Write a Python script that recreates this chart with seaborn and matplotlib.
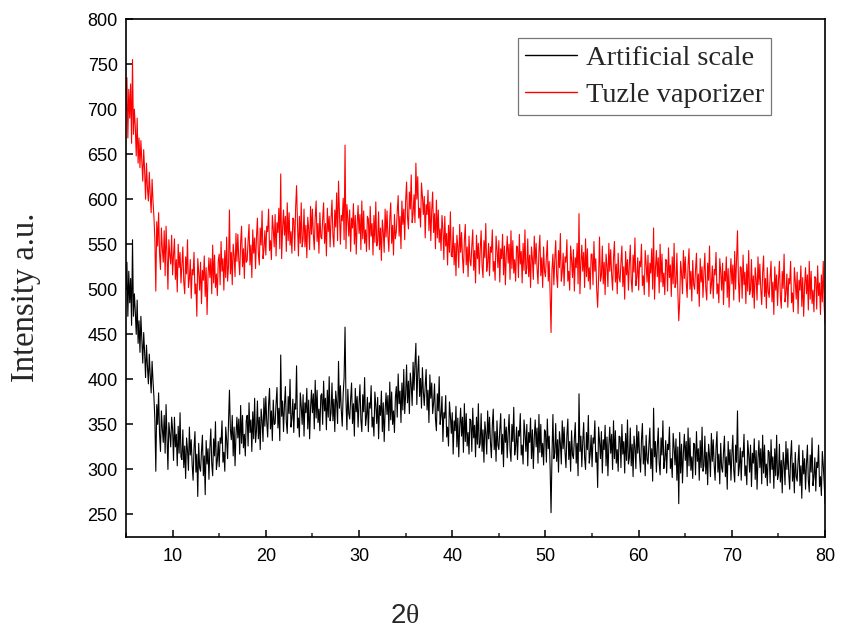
import numpy as np
import pandas as pd
import matplotlib
matplotlib.use("Agg")
import matplotlib.pyplot as plt
import seaborn as sns
from matplotlib.ticker import MultipleLocator

# 2-theta scan grid (degrees)
theta_start, theta_stop, theta_step = 5.0, 80.0, 0.1
two_theta = np.round(np.arange(theta_start, theta_stop + theta_step / 2, theta_step), 2)

artificial_scale = [
    500, 530, 470, 520, 485, 512, 460, 555, 470, 495,   # 5
    475, 450, 488, 440, 465, 430, 470, 445, 418, 452,   # 6
    430, 402, 438, 415, 395, 428, 405, 385, 420, 398,   # 7
    380, 355, 298, 372, 350, 385, 340, 320, 365, 345,   # 8
    330, 360, 318, 372, 338, 300, 352, 340, 325, 358,   # 9
    344, 310, 358, 325, 339, 304, 348, 318, 363, 314,   # 10
    311, 344, 302, 326, 290, 335, 322, 299, 347, 316,   # 11
    333, 305, 288, 324, 342, 297, 317, 270, 329, 302,   # 12
    298, 320, 338, 293, 315, 272, 332, 306, 323, 289,   # 13
    324, 345, 306, 293, 334, 315, 353, 300, 310, 331,   # 14
    303, 335, 329, 354, 308, 319, 298, 347, 332, 312,   # 15
    353, 388, 344, 333, 360, 315, 347, 304, 338, 358,   # 16
    335, 356, 317, 371, 329, 360, 324, 339, 315, 354,   # 17
    360, 326, 374, 341, 355, 320, 364, 334, 379, 330,   # 18
    343, 376, 334, 358, 322, 367, 354, 331, 379, 348,   # 19
    381, 353, 336, 372, 390, 345, 365, 332, 377, 350,   # 20
    351, 373, 391, 346, 368, 332, 427, 359, 376, 342,   # 21
    371, 392, 353, 340, 381, 362, 400, 347, 357, 378,   # 22
    341, 373, 367, 415, 346, 357, 336, 385, 370, 350,   # 23
    383, 337, 374, 363, 390, 345, 377, 334, 368, 388,   # 24
    363, 384, 345, 399, 357, 388, 352, 367, 343, 382,   # 25
    384, 350, 398, 365, 379, 344, 388, 358, 403, 354,   # 26
    363, 396, 354, 378, 342, 387, 374, 351, 420, 368,   # 27
    393, 365, 348, 384, 402, 458, 377, 344, 389, 362,   # 28
    356, 378, 396, 351, 373, 337, 390, 364, 381, 347,   # 29
    373, 394, 355, 342, 383, 364, 402, 349, 359, 380,   # 30
    342, 374, 368, 393, 347, 358, 337, 386, 371, 351,   # 31
    380, 334, 371, 360, 387, 342, 374, 331, 365, 385,   # 32
    361, 382, 343, 397, 355, 386, 350, 365, 341, 380,   # 33
    392, 358, 406, 373, 387, 352, 396, 366, 411, 362,   # 34
    383, 416, 374, 398, 362, 407, 394, 371, 419, 388,   # 35
    417, 440, 372, 408, 426, 381, 401, 368, 413, 386,   # 36
    371, 393, 411, 366, 388, 352, 405, 379, 396, 362,   # 37
    374, 395, 356, 343, 384, 365, 403, 350, 360, 381,   # 38
    331, 363, 357, 382, 336, 347, 326, 375, 360, 340,   # 39
    363, 317, 354, 343, 370, 325, 357, 314, 348, 368,   # 40
    337, 358, 319, 373, 331, 362, 326, 341, 317, 356,   # 41
    354, 320, 368, 335, 349, 314, 358, 328, 373, 324,   # 42
    329, 362, 320, 344, 308, 353, 340, 317, 365, 334,   # 43
    358, 330, 313, 349, 367, 322, 342, 309, 354, 327,   # 44
    322, 344, 362, 317, 339, 303, 356, 330, 347, 313,   # 45
    340, 361, 322, 309, 350, 331, 369, 316, 326, 347,   # 46
    311, 343, 337, 362, 316, 327, 306, 355, 340, 320,   # 47
    350, 304, 341, 330, 357, 312, 344, 301, 335, 355,   # 48
    325, 346, 307, 361, 319, 350, 314, 329, 305, 344,   # 49
    342, 308, 356, 323, 337, 302, 252, 316, 361, 312,   # 50
    318, 351, 309, 333, 297, 342, 329, 306, 354, 323,   # 51
    347, 319, 302, 338, 356, 311, 331, 298, 343, 316,   # 52
    312, 334, 352, 307, 329, 293, 384, 320, 337, 303,   # 53
    331, 352, 313, 300, 341, 322, 360, 307, 317, 338,   # 54
    303, 335, 329, 354, 308, 319, 280, 347, 332, 312,   # 55
    342, 296, 333, 322, 349, 304, 336, 293, 327, 347,   # 56
    318, 339, 300, 354, 312, 343, 307, 322, 298, 337,   # 57
    336, 302, 350, 317, 331, 296, 340, 310, 355, 306,   # 58
    313, 346, 304, 328, 292, 337, 324, 301, 349, 318,   # 59
    342, 314, 297, 333, 351, 306, 326, 293, 338, 311,   # 60
    306, 328, 346, 301, 323, 287, 368, 314, 331, 297,   # 61
    325, 346, 307, 294, 335, 316, 354, 301, 311, 332,   # 62
    296, 328, 322, 347, 301, 312, 291, 340, 325, 305,   # 63
    334, 288, 325, 262, 341, 296, 328, 285, 319, 339,   # 64
    310, 331, 292, 346, 304, 335, 299, 314, 290, 329,   # 65
    328, 294, 342, 309, 323, 288, 332, 302, 347, 298,   # 66
    304, 337, 295, 319, 283, 328, 315, 292, 340, 309,   # 67
    333, 305, 288, 324, 342, 297, 317, 284, 329, 302,   # 68
    297, 319, 337, 292, 314, 278, 331, 305, 322, 288,   # 69
    317, 338, 299, 286, 327, 308, 365, 293, 303, 324,   # 70
    288, 320, 314, 339, 293, 304, 283, 332, 317, 297,   # 71
    327, 281, 318, 307, 334, 289, 321, 278, 312, 332,   # 72
    302, 323, 284, 338, 296, 327, 291, 306, 282, 321,   # 73
    319, 285, 333, 300, 314, 279, 323, 293, 338, 289,   # 74
    295, 328, 286, 310, 274, 319, 306, 283, 331, 300,   # 75
    323, 295, 278, 314, 332, 287, 307, 274, 319, 292,   # 76
    287, 309, 327, 282, 304, 268, 321, 295, 312, 278,   # 77
    306, 327, 288, 275, 316, 297, 335, 282, 292, 313,   # 78
    276, 308, 302, 327, 281, 292, 271, 320, 305, 285,   # 79
    262,                                                # 80
]

tuzle_vaporizer = [
    700, 735, 668, 722, 690, 728, 662, 755, 672, 700,   # 5
    680, 648, 690, 640, 668, 635, 665, 642, 620, 655,   # 6
    632, 600, 640, 612, 598, 630, 605, 585, 622, 598,   # 7
    580, 555, 498, 575, 548, 585, 540, 522, 568, 545,   # 8
    530, 565, 515, 570, 540, 500, 555, 538, 528, 560,   # 9
    516, 538, 556, 511, 533, 497, 550, 524, 541, 507,   # 10
    526, 547, 508, 495, 536, 517, 555, 502, 512, 533,   # 11
    490, 522, 516, 541, 495, 506, 470, 534, 519, 499,   # 12
    530, 484, 521, 510, 537, 492, 524, 472, 515, 535,   # 13
    513, 534, 495, 549, 507, 538, 502, 517, 493, 532,   # 14
    539, 505, 553, 520, 534, 499, 543, 513, 558, 509,   # 15
    526, 588, 517, 541, 505, 550, 537, 514, 562, 531,   # 16
    561, 533, 516, 552, 570, 525, 545, 512, 557, 530,   # 17
    532, 554, 572, 527, 549, 513, 566, 540, 557, 523,   # 18
    558, 579, 540, 527, 568, 549, 587, 534, 544, 565,   # 19
    538, 570, 564, 589, 543, 554, 533, 582, 567, 547,   # 20
    583, 537, 574, 563, 590, 545, 628, 534, 568, 588,   # 21
    560, 581, 542, 596, 554, 585, 549, 564, 540, 579,   # 22
    577, 543, 591, 615, 572, 537, 581, 551, 596, 547,   # 23
    556, 589, 547, 571, 535, 580, 567, 544, 592, 561,   # 24
    589, 561, 544, 580, 598, 553, 573, 540, 585, 558,   # 25
    556, 578, 596, 551, 573, 537, 590, 564, 581, 547,   # 26
    578, 599, 560, 547, 588, 569, 607, 554, 620, 585,   # 27
    550, 582, 576, 601, 555, 660, 545, 594, 579, 559,   # 28
    588, 542, 579, 568, 595, 550, 582, 539, 573, 593,   # 29
    562, 583, 544, 598, 556, 587, 551, 566, 542, 581,   # 30
    578, 544, 592, 559, 573, 538, 582, 552, 597, 548,   # 31
    553, 586, 544, 568, 532, 577, 564, 541, 589, 558,   # 32
    587, 559, 542, 578, 596, 551, 571, 538, 583, 556,   # 33
    564, 586, 604, 559, 581, 545, 598, 572, 589, 555,   # 34
    598, 619, 580, 567, 608, 589, 627, 574, 584, 605,   # 35
    574, 640, 600, 625, 579, 590, 569, 618, 603, 583,   # 36
    603, 557, 594, 583, 610, 565, 597, 554, 588, 608,   # 37
    563, 584, 545, 599, 557, 588, 552, 567, 543, 582,   # 38
    567, 533, 581, 548, 562, 527, 571, 541, 586, 537,   # 39
    536, 569, 527, 551, 515, 560, 547, 524, 572, 541,   # 40
    563, 535, 518, 554, 572, 527, 547, 514, 559, 532,   # 41
    526, 548, 566, 521, 543, 507, 560, 534, 551, 517,   # 42
    544, 565, 526, 513, 554, 535, 573, 520, 530, 551,   # 43
    515, 547, 541, 566, 520, 531, 510, 559, 544, 524,   # 44
    554, 508, 545, 534, 561, 516, 548, 505, 539, 559,   # 45
    529, 550, 511, 565, 523, 554, 518, 533, 509, 548,   # 46
    547, 513, 561, 528, 542, 507, 551, 521, 566, 517,   # 47
    523, 556, 514, 538, 502, 547, 534, 511, 559, 528,   # 48
    551, 523, 506, 542, 560, 515, 535, 502, 547, 520,   # 49
    514, 536, 554, 509, 531, 495, 452, 522, 539, 505,   # 50
    533, 554, 515, 502, 543, 524, 562, 509, 519, 540,   # 51
    504, 536, 530, 555, 509, 520, 499, 548, 533, 513,   # 52
    544, 498, 535, 524, 551, 506, 584, 495, 529, 549,   # 53
    520, 541, 502, 556, 514, 545, 509, 524, 500, 539,   # 54
    539, 505, 553, 520, 534, 499, 480, 513, 558, 509,   # 55
    515, 548, 506, 530, 494, 539, 526, 503, 551, 520,   # 56
    544, 516, 499, 535, 553, 508, 528, 495, 540, 513,   # 57
    508, 530, 548, 503, 525, 489, 542, 516, 533, 499,   # 58
    528, 549, 510, 497, 538, 519, 557, 504, 514, 535,   # 59
    499, 531, 525, 550, 504, 515, 494, 543, 528, 508,   # 60
    538, 492, 529, 518, 545, 500, 568, 489, 523, 543,   # 61
    514, 535, 496, 550, 508, 539, 503, 518, 494, 533,   # 62
    532, 498, 546, 513, 527, 492, 536, 506, 551, 502,   # 63
    507, 540, 498, 465, 486, 531, 518, 495, 543, 512,   # 64
    536, 508, 491, 527, 545, 500, 520, 487, 532, 505,   # 65
    500, 522, 540, 495, 517, 481, 534, 508, 525, 491,   # 66
    519, 540, 501, 488, 529, 510, 548, 495, 505, 526,   # 67
    490, 522, 516, 541, 495, 506, 485, 534, 519, 499,   # 68
    529, 483, 520, 509, 536, 491, 523, 480, 514, 534,   # 69
    506, 527, 488, 542, 500, 531, 565, 510, 486, 525,   # 70
    524, 490, 538, 505, 519, 484, 528, 498, 543, 494,   # 71
    500, 533, 491, 515, 479, 524, 511, 488, 536, 505,   # 72
    528, 500, 483, 519, 537, 492, 512, 479, 524, 497,   # 73
    491, 513, 531, 486, 508, 472, 525, 499, 516, 482,   # 74
    510, 531, 492, 479, 520, 501, 539, 486, 496, 517,   # 75
    480, 512, 506, 531, 485, 496, 475, 524, 509, 489,   # 76
    519, 473, 510, 499, 526, 481, 513, 470, 504, 524,   # 77
    495, 516, 477, 531, 489, 520, 484, 499, 475, 514,   # 78
    512, 478, 526, 493, 507, 472, 516, 486, 531, 482,   # 79
    462,                                                # 80
]

series_names = ["Artificial scale", "Tuzle vaporizer"]
series_colors = ["black", "red"]

df = pd.DataFrame({
    "theta": np.concatenate([two_theta, two_theta]),
    "intensity": artificial_scale + tuzle_vaporizer,
    "series": [series_names[0]] * len(two_theta) + [series_names[1]] * len(two_theta),
})

sns.set_style("ticks")
plt.rcParams["font.family"] = ["Liberation Sans", "DejaVu Sans"]
plt.rcParams["mathtext.fontset"] = "custom"
plt.rcParams["mathtext.rm"] = "Liberation Serif"
plt.rcParams["mathtext.it"] = "Liberation Serif"
plt.rcParams["mathtext.sf"] = "Liberation Sans"

fig = plt.figure(figsize=(8.41, 6.30), dpi=100)
ax = fig.add_axes([0.1498, 0.1476, 0.8313, 0.8222])

sns.lineplot(data=df, x="theta", y="intensity", hue="series",
             palette=dict(zip(series_names, series_colors)),
             linewidth=0.8, ax=ax, estimator=None, sort=False)

ax.set_xlim(5, 80)
ax.set_ylim(225, 800)
ax.xaxis.set_major_locator(MultipleLocator(10))
ax.xaxis.set_minor_locator(MultipleLocator(5))
ax.yaxis.set_major_locator(MultipleLocator(50))
ax.tick_params(axis="both", which="major", direction="in", length=5, width=1.1,
               labelsize=13, colors="black")
ax.tick_params(axis="x", which="major", pad=8)
ax.tick_params(axis="y", which="major", pad=6)
ax.tick_params(axis="x", which="minor", direction="in", length=3, width=1.1)
ax.set_xticks([10, 20, 30, 40, 50, 60, 70, 80])
ax.set_yticks(list(range(250, 801, 50)))

for s in ax.spines.values():
    s.set_visible(True)
    s.set_linewidth(1.2)
    s.set_color("black")

ax.set_xlabel(r"$\mathsf{2}\mathrm{\theta}$", fontsize=20)
ax.xaxis.set_label_coords(0.399, -0.127)
ax.set_ylabel("Intensity a.u.", fontsize=23.5, family=["Liberation Serif", "DejaVu Serif"])
ax.yaxis.set_label_coords(-0.122, 0.463)

leg = ax.legend(loc="upper right", bbox_to_anchor=(0.923, 0.963), frameon=True,
                fancybox=False, handlelength=1.85, handletextpad=0.3,
                borderpad=0.25, labelspacing=0.38, borderaxespad=0.0,
                prop={"family": ["Liberation Serif", "DejaVu Serif"], "size": 20.5})
leg.get_frame().set_edgecolor("#555555")
leg.get_frame().set_linewidth(0.9)
for line in leg.get_lines():
    line.set_linewidth(1.0)

fig.savefig("out.png", dpi=100)
